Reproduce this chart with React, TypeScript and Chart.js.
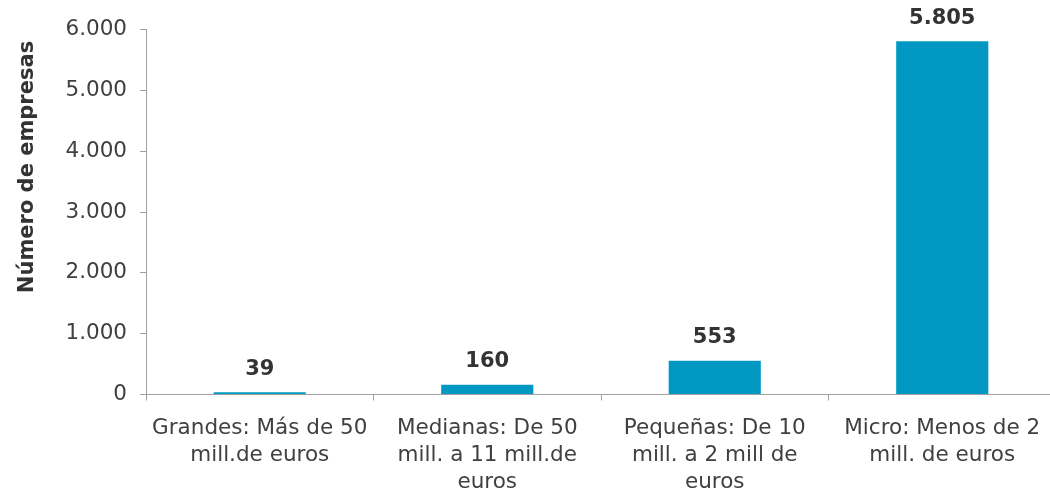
import React, { useEffect, useRef } from "react";
import { Chart, registerables } from "chart.js";

Chart.register(...registerables);

const categories: string[][] = [
  ["Grandes: Más de 50", "mill.de euros"],
  ["Medianas: De 50", "mill. a 11 mill.de", "euros"],
  ["Pequeñas: De 10", "mill. a 2 mill de", "euros"],
  ["Micro: Menos de 2", "mill. de euros"],
];
const empresas: number[] = [39, 160, 553, 5805];
const yTicks: number[] = [0, 1000, 2000, 3000, 4000, 5000, 6000];
const yTitle = "Número de empresas";

const FONT = "'DejaVu Sans', Verdana, sans-serif";
const fmt = (v: number) => String(v).replace(/\B(?=(\d{3})+(?!\d))/g, ".");

const labelPlugin = {
  id: "valueLabels",
  afterDatasetsDraw(chart: any) {
    const ctx = chart.ctx;
    const meta = chart.getDatasetMeta(0);
    ctx.save();
    ctx.font = `bold 21px ${FONT}`;
    ctx.fillStyle = "#333333";
    ctx.textAlign = "center";
    ctx.textBaseline = "middle";
    meta.data.forEach((bar: any, i: number) => {
      ctx.fillText(fmt(empresas[i]), bar.x, bar.y - 23);
    });
    ctx.restore();
  },
};

const titlePlugin = {
  id: "yTitle",
  afterDraw(chart: any) {
    const ctx = chart.ctx;
    ctx.save();
    ctx.font = `bold 21px ${FONT}`;
    ctx.fillStyle = "#333333";
    ctx.textAlign = "center";
    ctx.textBaseline = "alphabetic";
    ctx.translate(33, 167);
    ctx.rotate(-Math.PI / 2);
    ctx.fillText(yTitle, 0, 0);
    ctx.restore();
  },
};

export default function App() {
  const ref = useRef<HTMLCanvasElement | null>(null);
  useEffect(() => {
    if (!ref.current) return;
    const chart = new Chart(ref.current, {
      type: "bar",
      data: {
        labels: categories,
        datasets: [
          {
            data: empresas,
            backgroundColor: "#0098C3",
            borderWidth: 0,
            barPercentage: 0.405,
            categoryPercentage: 1,
          },
        ],
      },
      options: {
        responsive: false,
        animation: false,
        layout: { padding: { top: 29.5, left: 0, right: 0, bottom: 0 } },
        plugins: {
          legend: { display: false },
          tooltip: { enabled: false },
        },
        scales: {
          x: {
            offset: true,
            grid: {
              display: true,
              drawOnChartArea: false,
              drawTicks: true,
              tickLength: 6,
              offset: true,
              color: "#a0a0a0",
            },
            border: { color: "#a0a0a0" },
            ticks: {
              font: { family: FONT, size: 21.5, lineHeight: "27px" },
              color: "#404040",
              padding: 14,
              maxRotation: 0,
              autoSkip: false,
            },
            afterFit: (s: any) => {
              s.height = 102.5;
            },
          },
          y: {
            min: 0,
            max: 6000,
            afterBuildTicks: (s: any) => {
              s.ticks = yTicks.map((v) => ({ value: v }));
            },
            grid: {
              display: true,
              drawOnChartArea: false,
              drawTicks: true,
              tickLength: 6,
              color: "#a0a0a0",
            },
            border: { color: "#a0a0a0" },
            ticks: {
              font: { family: FONT, size: 21.5 },
              color: "#404040",
              padding: 13,
              callback: (v: any) => fmt(Number(v)),
            },
            afterFit: (s: any) => {
              s.width = 146;
            },
          },
        },
      },
      plugins: [labelPlugin, titlePlugin],
    });
    return () => chart.destroy();
  }, []);
  return (
    <div
      style={{
        position: "absolute",
        left: 0,
        top: 0,
        width: 1050,
        height: 497,
        overflow: "hidden",
        background: "#fff",
      }}
    >
      <canvas ref={ref} width={1056} height={497} style={{ display: "block" }} />
    </div>
  );
}
